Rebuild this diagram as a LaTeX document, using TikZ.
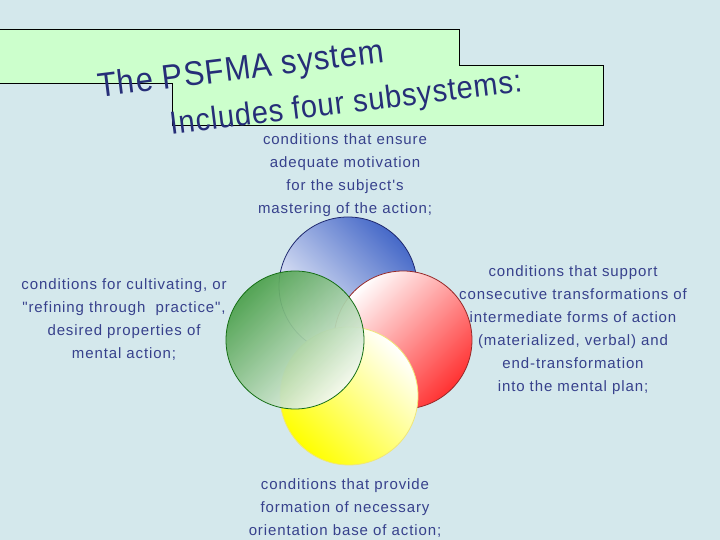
\documentclass[tikz,border=0pt]{standalone}
\usepackage{fontspec}
\setmainfont{Liberation Sans}
\newfontfamily\corpo[LetterSpace=6]{Liberation Sans}
\newfontfamily\cabeca[LetterSpace=3]{Liberation Sans}
\usetikzlibrary{positioning}

\definecolor{fundo}{RGB}{212,232,236}
\definecolor{verdeclaro}{RGB}{204,255,204}
\definecolor{tinta}{RGB}{38,46,120}
\definecolor{tintatexto}{RGB}{55,65,140}
\definecolor{azulc}{RGB}{70,105,200}
\definecolor{azulb}{RGB}{30,40,110}
\definecolor{vermelhoc}{RGB}{255,50,50}
\definecolor{vermelhob}{RGB}{150,40,40}
\definecolor{amareloc}{RGB}{255,255,0}
\definecolor{amarelob}{RGB}{240,230,120}
\definecolor{verdec}{RGB}{75,160,75}
\definecolor{verdeb}{RGB}{20,110,20}

\begin{document}
\begin{tikzpicture}[x=1pt, y=1pt,
    texto/.style={text=tintatexto, align=center, font=\corpo\fontsize{15}{23}\selectfont},
    titulo/.style={text=tinta, rotate=7, yscale=1.1},
    borda/.style={line width=0.8pt}]

    % Fundo
    \fill[fundo] (0,0) rectangle (720,540);
    \useasboundingbox (0,0) rectangle (720,540);

    % Caixa do titulo
    \draw[fill=verdeclaro, line width=0.9pt] (-2,511) -- (459,511) -- (459,475) -- (603,475)
        -- (603,415) -- (172,415) -- (172,457) -- (-2,457) -- cycle;
    \node[titulo, font=\cabeca\fontsize{31}{36}\selectfont] (titulo1) at (241,469) {The PSFMA system};
    \node[titulo, font=\cabeca\fontsize{29}{34}\selectfont] (titulo2) at (346,435) {Includes four subsystems:};

    % Centros dos circulos
    \coordinate (B) at (348,254);
    \coordinate (R) at (403,200);
    \coordinate (Y) at (349,144);
    \coordinate (G) at (295,200);

    % Circulo azul (motivacao)
    \shade[top color=azulc, bottom color=white, shading angle=-45] (B) circle (69pt);
    \draw[azulb, borda] (B) circle (69pt);

    % Circulo vermelho (transformacoes)
    \shade[top color=white, bottom color=vermelhoc, shading angle=45] (R) circle (69pt);
    \draw[vermelhob, borda] (R) circle (69pt);

    % Circulo amarelo (orientacao)
    \shade[top color=white, bottom color=amareloc, shading angle=-45] (Y) circle (69pt);
    \draw[amarelob, borda] (Y) circle (69pt);

    % Circulo verde (cultivo) - quase opaco
    \shade[top color=verdec, bottom color=white!94!verdec, shading angle=45, fill opacity=0.93] (G) circle (69pt);
    \draw[verdeb, borda] (G) circle (69pt);

    % Textos
    \node[texto] (motivacao) at (345,364.5) {conditions that ensure\\ adequate motivation\\ for the subject's\\ mastering of the action;};
    \node[texto] (cultivo) at (124,220.5) {conditions for cultivating, or\\ "refining through\ \ practice",\\ desired properties of\\ mental action;};
    \node[texto] (transformacao) at (573,209.5) {conditions that support\\ consecutive transformations of\\ intermediate forms of action\\ (materialized, verbal) and\\ end-transformation\\ into the mental plan;};
    \node[texto] (orientacao) at (345,31.5) {conditions that provide\\ formation of necessary\\ orientation base of action;};

\end{tikzpicture}
\end{document}
